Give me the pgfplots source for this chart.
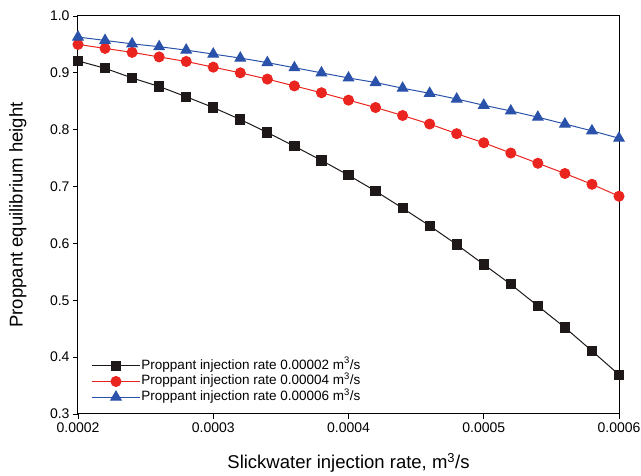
\documentclass[border=0pt]{standalone}
\usepackage{fontspec}
\setmainfont{Liberation Sans}
\usepackage{pgfplots}
\pgfplotsset{compat=1.18}
\definecolor{cblack}{RGB}{30,24,24}
\definecolor{cred}{RGB}{234,36,30}
\definecolor{cblue}{RGB}{42,82,170}
\begin{document}
\begin{tikzpicture}
\begin{axis}[
  name=ax,
  scale only axis,
  width=541pt, height=398pt,
  xmin=0.0002, xmax=0.0006,
  ymin=0.3, ymax=1.0,
  xtick={0.0002,0.0003,0.0004,0.0005,0.0006},
  ytick={0.3,0.4,0.5,0.6,0.7,0.8,0.9,1.0},
  scaled x ticks=false, scaled y ticks=false,
  xticklabel style={/pgf/number format/.cd, fixed, precision=4},
  yticklabel style={/pgf/number format/.cd, fixed, fixed zerofill, precision=1},
  /pgf/number format/assume math mode=true,
  tick label style={font=\fontsize{14}{16}\selectfont},
  tick align=outside,
  xtick pos=bottom, ytick pos=left,
  major tick length=5pt,
  axis line style={line width=1pt, black},
  tick style={line width=0.9pt, black},
  xlabel={Slickwater injection rate, m\textsuperscript{3}/s},
  ylabel={Proppant equilibrium height},
  label style={font=\fontsize{18.5}{20}\selectfont},
  xlabel style={at={(axis description cs:0.5,-0.123)}, anchor=center},
  ylabel style={at={(axis description cs:-0.111,0.5)}, anchor=center, rotate=0},
  legend style={draw=none, fill=none, at={(axis description cs:0.019,0.146)}, anchor=north west,
    font=\fontsize{13.5}{15}\selectfont, row sep=0pt,
    nodes={inner sep=1pt, text height=10pt, text depth=3.6pt}},
  legend cell align=left,
  legend image code/.code={\draw[mark repeat=2, mark phase=2, #1] plot coordinates {(0pt,0pt) (24pt,0pt) (48pt,0pt)};},
  every axis plot/.append style={line width=1pt},
]
\addplot[color=cblack, mark=square*, mark size=4.6pt, mark options={fill=cblack, draw=cblack}] coordinates {
(0.00020,0.921) (0.00022,0.908) (0.00024,0.891) (0.00026,0.876) (0.00028,0.858)
(0.00030,0.839) (0.00032,0.818) (0.00034,0.795) (0.00036,0.771) (0.00038,0.746)
(0.00040,0.720) (0.00042,0.692) (0.00044,0.662) (0.00046,0.631) (0.00048,0.598)
(0.00050,0.563) (0.00052,0.528) (0.00054,0.490) (0.00056,0.452) (0.00058,0.411)
(0.00060,0.369)};
\addlegendentry{Proppant injection rate 0.00002 m\textsuperscript{3}/s}
\addplot[color=cred, mark=*, mark size=5pt, mark options={fill=cred, draw=cred}] coordinates {
(0.00020,0.950) (0.00022,0.943) (0.00024,0.936) (0.00026,0.928) (0.00028,0.920)
(0.00030,0.910) (0.00032,0.900) (0.00034,0.889) (0.00036,0.877) (0.00038,0.865)
(0.00040,0.852) (0.00042,0.839) (0.00044,0.825) (0.00046,0.810) (0.00048,0.793)
(0.00050,0.777) (0.00052,0.759) (0.00054,0.741) (0.00056,0.723) (0.00058,0.704)
(0.00060,0.683)};
\addlegendentry{Proppant injection rate 0.00004 m\textsuperscript{3}/s}
\addplot[color=cblue, mark=triangle*, mark size=6pt, mark options={fill=cblue, draw=cblue}] coordinates {
(0.00020,0.963) (0.00022,0.957) (0.00024,0.951) (0.00026,0.946) (0.00028,0.940)
(0.00030,0.933) (0.00032,0.926) (0.00034,0.918) (0.00036,0.909) (0.00038,0.900)
(0.00040,0.891) (0.00042,0.883) (0.00044,0.873) (0.00046,0.864) (0.00048,0.854)
(0.00050,0.843) (0.00052,0.833) (0.00054,0.822) (0.00056,0.810) (0.00058,0.798)
(0.00060,0.785)};
\addlegendentry{Proppant injection rate 0.00006 m\textsuperscript{3}/s}
\end{axis}
\path (ax.south west) ++(-78pt,-62pt) coordinate (bbA);
\path (ax.north east) ++(22pt,16pt) coordinate (bbB);
\pgfresetboundingbox
\path (bbA) rectangle (bbB);
\end{tikzpicture}
\end{document}
